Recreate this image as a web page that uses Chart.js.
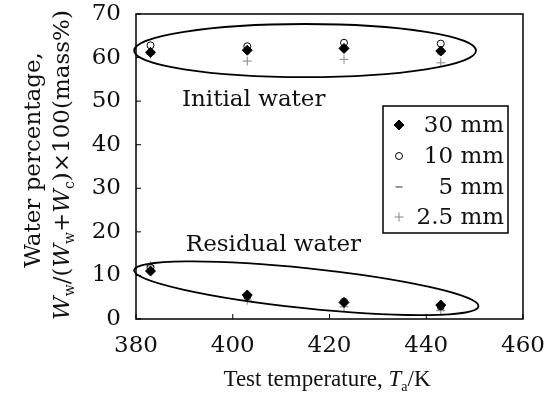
<!DOCTYPE html>
<html>
<head>
<meta charset="utf-8">
<script src="https://cdn.jsdelivr.net/npm/chart.js@4.4.1/dist/chart.umd.min.js"></script>
<style>
  html, body { margin: 0; padding: 0; background: #fff; }
  #wrap { width: 558px; height: 396px; }
</style>
</head>
<body>
<div id="wrap"><canvas id="chart" width="558" height="396"></canvas></div>
<script>
// ---- data ----
const temps = [383, 403, 423, 443];
const sizes = ["30 mm", "10 mm", "5 mm", "2.5 mm"];

// initial water (mass%)
const init30 = [61.2, 61.7, 62.1, 61.5];
const init10 = [62.8, 62.6, 63.4, 63.2];
const init5 = [61.4, 61.9, 62.5, 60.9];
const init25 = [60.8, 59.2, 59.6, 58.8];

// residual water (mass%)
const resid30 = [11.0, 5.5, 3.8, 3.2];
const resid10 = [11.8, 5.2, 4.0, 2.9];
const resid5 = [11.5, 4.8, 3.9, 2.2];
const resid25 = [12.2, 4.3, 2.8, 1.9];

const xTicks = [380, 400, 420, 440, 460];
const yTicks = [0, 10, 20, 30, 40, 50, 60, 70];

// ellipses in data units: two ends of the long axis + half of short axis (y units)
const initialEllipse = { x1: 379.6, y1: 61.6, x2: 450.3, y2: 61.6, half: 6.1 };
const residualEllipse = { x1: 379.6, y1: 11.2, x2: 450.8, y2: 2.9, half: 4.6 };

const FONT = "DejaVu Serif";
const FS = 23;
const INK = "#111";

function pts(a, b) {
  return temps.map((t, i) => ({ x: t, y: a[i] })).concat(temps.map((t, i) => ({ x: t, y: b[i] })));
}

const styles = [
  { pointStyle: "rectRot", radius: 5, backgroundColor: "#000", borderColor: "#000", borderWidth: 1 },
  { pointStyle: "circle", radius: 3.5, backgroundColor: "rgba(255,255,255,0)", borderColor: "#000", borderWidth: 1 },
  { pointStyle: "line", radius: 3.5, backgroundColor: "#999", borderColor: "#999", borderWidth: 2 },
  { pointStyle: "cross", radius: 4.5, backgroundColor: "#888", borderColor: "#888", borderWidth: 1 }
];
const series = [pts(init30, resid30), pts(init10, resid10), pts(init5, resid5), pts(init25, resid25)];

// draw a run of text pieces (italic / subscript) centred on (cx, cy)
function richText(ctx, segs, cx, cy, size, family) {
  const fam = family || FONT;
  const fontOf = (s) => (s.it ? "italic " : "") + Math.round(s.sub ? size * 0.62 : size) + "px '" + fam + "'";
  let w = 0;
  segs.forEach((s) => { ctx.font = fontOf(s); w += ctx.measureText(s.t).width; });
  let x = cx - w / 2;
  ctx.textAlign = "left";
  ctx.textBaseline = "alphabetic";
  segs.forEach((s) => {
    ctx.font = fontOf(s);
    ctx.fillText(s.t, x, cy + size * 0.35 + (s.sub ? size * 0.22 : 0));
    x += ctx.measureText(s.t).width;
  });
}

function ellipse(ctx, e, xs, ys) {
  const p1x = xs.getPixelForValue(e.x1), p1y = ys.getPixelForValue(e.y1);
  const p2x = xs.getPixelForValue(e.x2), p2y = ys.getPixelForValue(e.y2);
  const b = Math.abs(ys.getPixelForValue(0) - ys.getPixelForValue(e.half));
  const a = Math.hypot(p2x - p1x, p2y - p1y) / 2;
  ctx.beginPath();
  ctx.ellipse((p1x + p2x) / 2, (p1y + p2y) / 2, a, b, Math.atan2(p2y - p1y, p2x - p1x), 0, Math.PI * 2);
  ctx.stroke();
}

const extras = {
  id: "extras",
  afterDraw(chart) {
    const ctx = chart.ctx;
    const xs = chart.scales.x, ys = chart.scales.y;
    const ca = chart.chartArea;
    ctx.save();
    ctx.strokeStyle = "#000";
    ctx.fillStyle = INK;

    // frame
    ctx.lineWidth = 1.5;
    ctx.strokeRect(ca.left, ca.top, ca.right - ca.left, ca.bottom - ca.top);

    // inward ticks
    ctx.lineWidth = 1;
    ctx.beginPath();
    xTicks.forEach((v) => {
      const px = xs.getPixelForValue(v);
      ctx.moveTo(px, ca.bottom); ctx.lineTo(px, ca.bottom - 5);
    });
    yTicks.forEach((v) => {
      const py = ys.getPixelForValue(v);
      ctx.moveTo(ca.left, py); ctx.lineTo(ca.left + 5, py);
    });
    ctx.stroke();

    // ellipses
    ctx.lineWidth = 1.8;
    ellipse(ctx, initialEllipse, xs, ys);
    ellipse(ctx, residualEllipse, xs, ys);

    // group labels
    ctx.font = FS + "px '" + FONT + "'";
    ctx.textAlign = "left";
    ctx.textBaseline = "alphabetic";
    ctx.fillText("Initial water", xs.getPixelForValue(389.5), ys.getPixelForValue(48.9));
    ctx.fillText("Residual water", xs.getPixelForValue(390.3), ys.getPixelForValue(15.6));

    // axis titles
    richText(ctx, [
      { t: "Test temperature, " }, { t: "T", it: true }, { t: "a", sub: true }, { t: "/K" }
    ], 327, 378, 23, "Liberation Serif");

    ctx.save();
    ctx.translate(32, 160);
    ctx.rotate(-Math.PI / 2);
    richText(ctx, [{ t: "Water percentage," }], 0, 0, FS);
    ctx.restore();
    ctx.save();
    ctx.translate(61, 165);
    ctx.rotate(-Math.PI / 2);
    richText(ctx, [
      { t: "W", it: true }, { t: "w", sub: true }, { t: "/(" },
      { t: "W", it: true }, { t: "w", sub: true }, { t: "+" },
      { t: "W", it: true }, { t: "c", sub: true }, { t: ")\u00d7100(mass%)" }
    ], 0, 0, FS);
    ctx.restore();

    // legend
    const lx = 383, ly = 106, lw = 125, lh = 127;
    ctx.fillStyle = "#fff";
    ctx.fillRect(lx, ly, lw, lh);
    ctx.lineWidth = 1.5;
    ctx.strokeRect(lx, ly, lw, lh);
    const rows = [125, 156, 187, 217];
    sizes.forEach((name, i) => {
      const st = styles[i];
      ctx.strokeStyle = st.borderColor;
      ctx.fillStyle = st.backgroundColor;
      ctx.lineWidth = st.borderWidth;
      Chart.helpers.drawPoint(ctx, { pointStyle: st.pointStyle, radius: st.radius, rotation: 0, borderWidth: st.borderWidth }, lx + 16, rows[i]);
      ctx.fillStyle = INK;
      ctx.font = FS + "px '" + FONT + "'";
      ctx.textAlign = "right";
      ctx.textBaseline = "middle";
      ctx.fillText(name, lx + lw - 4, rows[i] + 1);
    });
    ctx.restore();
  }
};

new Chart(document.getElementById("chart"), {
  type: "scatter",
  data: {
    datasets: sizes.map((name, i) => Object.assign({ label: name, data: series[i], showLine: false }, styles[i]))
  },
  options: {
    responsive: false,
    animation: false,
    devicePixelRatio: 1,
    layout: { padding: { top: 14, right: 35, left: 0, bottom: 0 } },
    plugins: { legend: { display: false }, tooltip: { enabled: false } },
    scales: {
      x: {
        type: "linear", min: 380, max: 460,
        afterBuildTicks: (s) => { s.ticks = xTicks.map((v) => ({ value: v })); },
        afterFit: (s) => { s.height = 77; s.paddingLeft = 0; s.paddingRight = 0; },
        grid: { display: false, drawTicks: false },
        border: { display: false },
        ticks: { color: INK, padding: 13, font: { family: FONT, size: FS } }
      },
      y: {
        type: "linear", min: 0, max: 70,
        afterBuildTicks: (s) => { s.ticks = yTicks.map((v) => ({ value: v })); },
        afterFit: (s) => { s.width = 136; s.paddingTop = 0; s.paddingBottom = 0; },
        grid: { display: false, drawTicks: false },
        border: { display: false },
        ticks: { color: INK, padding: 15, font: { family: FONT, size: FS } }
      }
    }
  },
  plugins: [extras]
});
</script>
</body>
</html>
